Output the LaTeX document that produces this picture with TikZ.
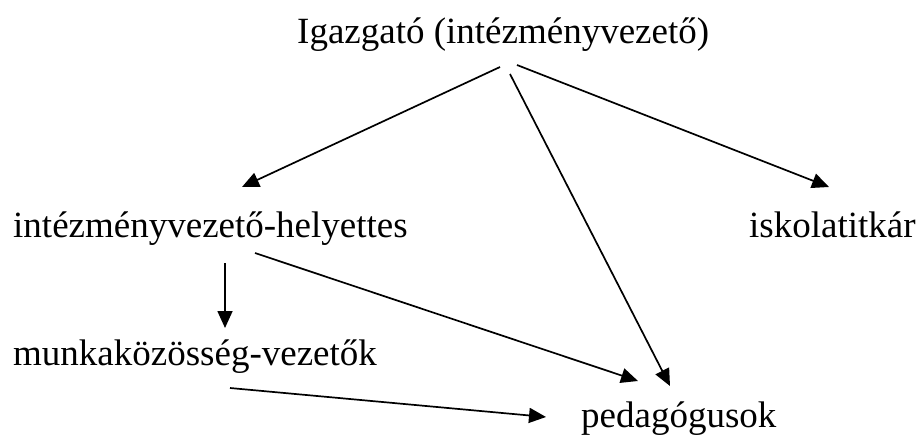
\documentclass[tikz,border=0pt]{standalone}
\usepackage{fontspec}
\setmainfont{Liberation Serif}
\usetikzlibrary{arrows.meta}
\begin{document}
\begin{tikzpicture}[x=1pt,y=-1pt,
  lbl/.style={anchor=base west,inner sep=0pt,font=\fontsize{37}{44}\selectfont},
  conn/.style={line width=1.7pt,-{Triangle[length=17pt,width=15pt]}}]
\useasboundingbox (0,0) rectangle (920,436);
\node[lbl] (igaz) at (297,44) {Igazgató (intézményvezető)};
\node[lbl] (hely) at (13,237) {intézményvezető-helyettes};
\node[lbl] (titk) at (749,237) {iskolatitkár};
\node[lbl] (munk) at (13,365) {munkaközösség-vezetők};
\node[lbl] (peda) at (581,427) {pedagógusok};
\coordinate (i1) at (500,67);
\coordinate (i2) at (510,74);
\coordinate (i3) at (517,65);
\coordinate (h1) at (242,187);
\coordinate (t1) at (829,187);
\coordinate (p1) at (670,386);
\coordinate (p2) at (638,381);
\coordinate (hs) at (225,263);
\coordinate (hd) at (225,328);
\coordinate (hr) at (255,253);
\coordinate (ms) at (230,388);
\coordinate (pm) at (546,417);
\draw[conn] (i1) -- (h1);
\draw[conn] (i2) -- (p1);
\draw[conn] (i3) -- (t1);
\draw[conn] (hs) -- (hd);
\draw[conn] (hr) -- (p2);
\draw[conn] (ms) -- (pm);
\end{tikzpicture}
\end{document}
